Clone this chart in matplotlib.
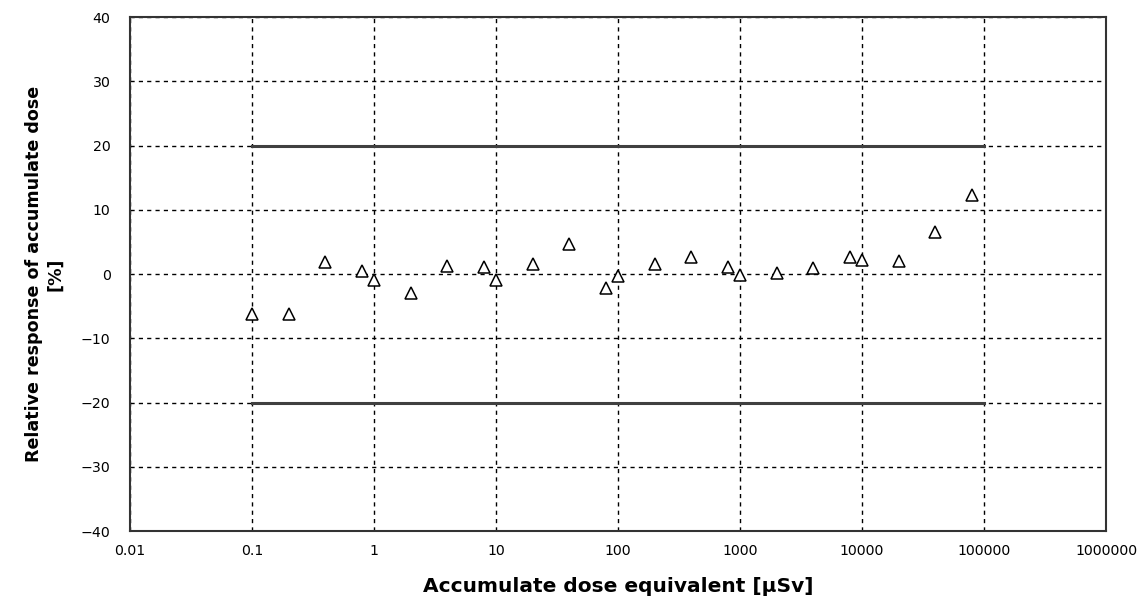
import matplotlib
matplotlib.use("Agg")
import matplotlib.pyplot as plt
from matplotlib.ticker import FixedLocator, FixedFormatter, NullLocator

# measured points
dose = [0.1, 0.2, 0.4, 0.8, 1, 2, 4, 8, 10, 20, 40, 80, 100,
        200, 400, 800, 1000, 2000, 4000, 8000, 10000, 20000, 40000, 80000]
response = [-6.2, -6.2, 1.8, 0.4, -1.0, -3.0, 1.3, 1.1, -1.0, 1.6, 4.7, -2.2, -0.3,
            1.6, 2.6, 1.1, -0.1, 0.2, 0.9, 2.6, 2.2, 2.1, 6.6, 12.3]

# tolerance limits
limit_x = [0.1, 100000]
upper_limit = [20, 20]
lower_limit = [-20, -20]

xticks = [0.01, 0.1, 1, 10, 100, 1000, 10000, 100000, 1000000]
xtick_labels = ["0.01", "0.1", "1", "10", "100", "1000", "10000", "100000", "1000000"]
yticks = [-40, -30, -20, -10, 0, 10, 20, 30, 40]

plt.rcParams['font.family'] = ['DejaVu Sans']

fig = plt.figure(figsize=(11.42, 6.09), dpi=100)
ax = fig.add_axes([0.1138, 0.128, 0.8547, 0.844])

ax.plot(limit_x, upper_limit, color='#404040', lw=2.2, zorder=3)
ax.plot(limit_x, lower_limit, color='#404040', lw=2.2, zorder=3)
ax.plot(dose, response, linestyle='none', marker='^', markersize=8.5,
        markerfacecolor='white', markeredgecolor='black', markeredgewidth=1.1, zorder=4)

ax.set_xscale('log')
ax.set_xlim(0.01, 1000000)
ax.set_ylim(-40, 40)
ax.xaxis.set_major_locator(FixedLocator(xticks))
ax.xaxis.set_major_formatter(FixedFormatter(xtick_labels))
ax.xaxis.set_minor_locator(NullLocator())
ax.set_yticks(yticks)
ax.set_yticklabels([str(v).replace('-', '\u2212') for v in yticks])

ax.tick_params(axis='both', length=0, labelsize=10.2)
ax.tick_params(axis='x', pad=9)
ax.tick_params(axis='y', pad=14)

ax.grid(True, which='major', color='black', linestyle=(0, (3, 3)), linewidth=1.0)
for s in ax.spines.values():
    s.set_color('#333333')
    s.set_linewidth(1.5)

ax.set_xlabel("Accumulate dose equivalent [\u03bcSv]", fontsize=14.5, fontweight='bold', labelpad=14)
ax.set_ylabel("Relative response of accumulate dose\n[%]", fontsize=12.6, fontweight='bold',
              labelpad=12, multialignment='center')

fig.savefig("out.png", dpi=100)
